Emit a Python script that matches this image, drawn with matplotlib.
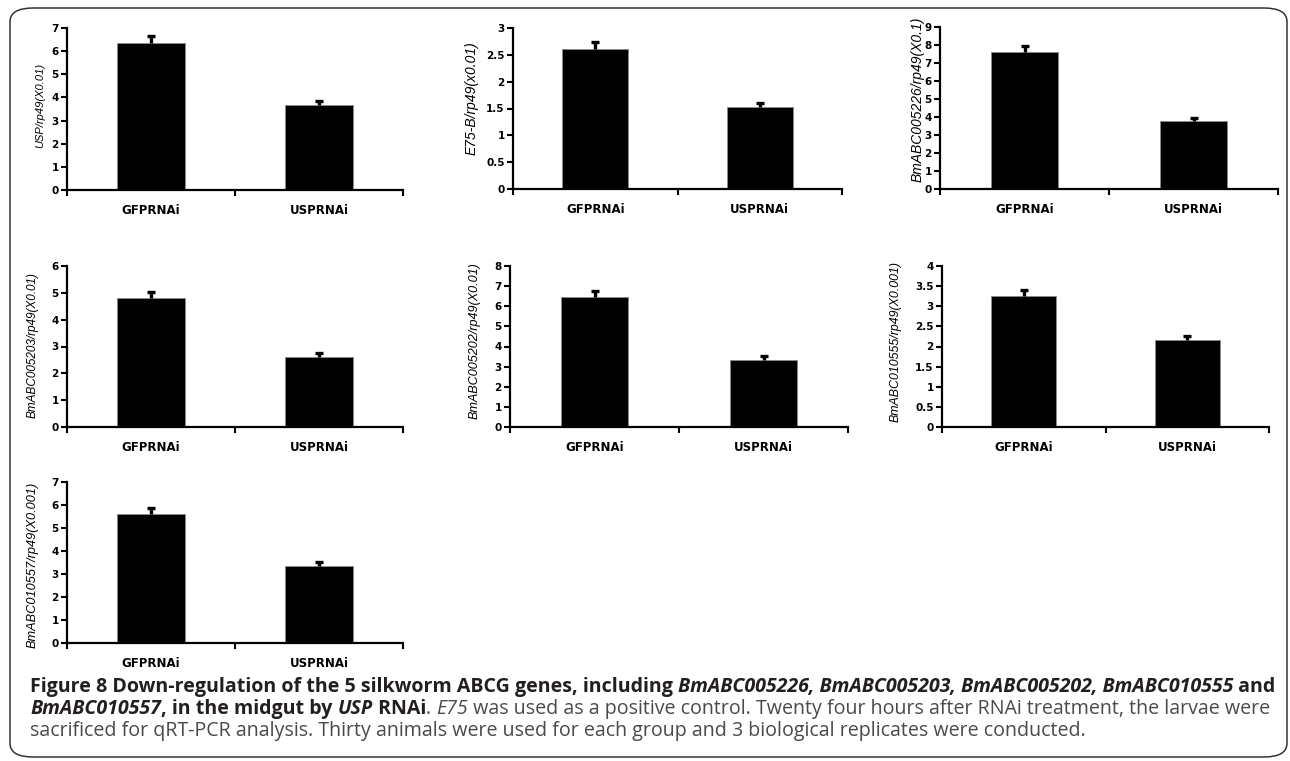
import numpy as np
import matplotlib
matplotlib.use("Agg")
from matplotlib import pyplot as plt
from matplotlib.patches import FancyBboxPatch

# data
groups = ["GFPRNAi", "USPRNAi"]
ylabels = ["USP/rp49(X0.01)", "E75-B/rp49(x0.01)", "BmABC005226/rp49(X0.1)",
           "BmABC005203/rp49(X0.01)", "BmABC005202/rp49(X0.01)",
           "BmABC010555/rp49(X0.001)", "BmABC010557/rp49(X0.001)"]
gfp_mean = [6.35, 2.61, 7.59, 4.82, 6.47, 3.26, 5.62]
gfp_err = [0.29, 0.13, 0.34, 0.22, 0.30, 0.14, 0.26]
usp_mean = [3.68, 1.53, 3.76, 2.61, 3.35, 2.17, 3.35]
usp_err = [0.17, 0.07, 0.18, 0.13, 0.17, 0.10, 0.17]
ymax = [7, 3, 9, 6, 8, 4, 7]
ystep = [1, 0.5, 1, 1, 1, 0.5, 1]

W, H = 1290, 761
fig = plt.figure(figsize=(W / 100, H / 100), dpi=100)
renderer = fig.canvas.get_renderer()

# axes boxes in pixels: left, right, top, bottom
boxes = [(67, 403, 28, 190), (513, 842, 28, 189), (940, 1278, 27, 189),
         (67, 403, 266, 427), (510, 848, 266, 427), (942, 1269, 266, 427),
         (67, 403, 482, 643)]
# y label: distance left of axis, vertical centre, length (pixels)
lab_dx = [27, 41, 22, 34, 35, 46, 34]
lab_cy = [105, 98, 99, 345, 341, 342, 565]
lab_len = [76, 117, 178, 147, 158, 162, 166]

for i in range(7):
    l, r, t, b = boxes[i]
    ax = fig.add_axes([l / W, 1 - b / H, (r - l) / W, (b - t) / H])
    x = np.arange(len(groups))
    vals = [gfp_mean[i], usp_mean[i]]
    errs = [gfp_err[i], usp_err[i]]
    ax.bar(x, vals, width=0.4, color="black", edgecolor="#8a8a8a", linewidth=0.6, zorder=2)
    eb = ax.errorbar(x, vals, yerr=[[0, 0], errs], fmt="none", ecolor="black",
                     elinewidth=2.4, capsize=2.8, capthick=2.4, zorder=3)
    eb[1][0].set_visible(False)  # no lower cap
    ax.set_xlim(-0.5, 1.5)
    ax.set_ylim(0, ymax[i])
    yt = np.arange(0, ymax[i] + ystep[i] / 2, ystep[i])
    ax.set_yticks(yt)
    ax.set_yticklabels([f"{v:g}" for v in yt], fontsize=7.5, fontweight="bold",
                       family="DejaVu Sans")
    ax.set_xticks(x)
    ax.set_xticklabels(groups, fontsize=8.5, fontweight="bold", family="DejaVu Sans")
    ax.set_xticks([-0.5, 0.5, 1.5], minor=True)
    ax.tick_params(axis="x", which="major", length=0, pad=10)
    ax.tick_params(axis="x", which="minor", length=4, width=1.5, direction="out")
    ax.tick_params(axis="y", length=4, width=1.5, direction="out", pad=2)
    for s in ["top", "right"]:
        ax.spines[s].set_visible(False)
    for s in ["left", "bottom"]:
        ax.spines[s].set_linewidth(1.6)
    ax.patch.set_alpha(0)

    lab = ax.set_ylabel(ylabels[i], fontsize=9, fontstyle="italic", family="Liberation Sans")
    lab.set_va("center")
    h = lab.get_window_extent(renderer).height
    lab.set_fontsize(min(max(9 * lab_len[i] / h, 8), 10))
    ax.yaxis.set_label_coords(-lab_dx[i] / (r - l), (b - lab_cy[i]) / (b - t))

# border round the whole figure
fig.patches.append(FancyBboxPatch((10 / W, 1 - 757 / H), 1277 / W, 749 / H,
                                  boxstyle="round,pad=0,rounding_size=0.018",
                                  transform=fig.transFigure, fill=False,
                                  edgecolor="#333333", linewidth=1.1))

# caption, built piece by piece
dark = "#231f20"
grey = "#4a4a4a"
cap = [
    (687, [("Figure 8 Down-regulation of the 5 silkworm ABCG genes, including ", "bold", "normal", dark),
           ("BmABC005226, BmABC005203, BmABC005202, BmABC010555", "bold", "italic", dark),
           (" and", "bold", "normal", dark)]),
    (709, [("BmABC010557", "bold", "italic", dark),
           (", in the midgut by ", "bold", "normal", dark),
           ("USP", "bold", "italic", dark),
           (" RNAi", "bold", "normal", dark),
           (". ", "normal", "normal", grey),
           ("E75", "normal", "italic", grey),
           (" was used as a positive control. Twenty four hours after RNAi treatment, the larvae were",
            "normal", "normal", grey)]),
    (731, [("sacrificed for qRT-PCR analysis. Thirty animals were used for each group and 3 biological replicates were conducted.",
            "normal", "normal", grey)]),
]

# size the caption so the first line spans the box like the original
base = 10.5
w1 = 0
for txt, w, st, c in cap[0][1]:
    tmp = fig.text(0, 0, txt, fontsize=base, fontweight=w, fontstyle=st, family="Open Sans")
    w1 += tmp.get_window_extent(renderer).width
    tmp.remove()
fs = base * (1279 - 30) / w1

for y, parts in cap:
    xp = 30
    for txt, w, st, c in parts:
        t = fig.text(xp / W, 1 - y / H, txt, fontsize=fs, fontweight=w, fontstyle=st,
                     color=c, family="Open Sans", va="center", ha="left")
        xp += t.get_window_extent(renderer).width

plt.savefig("out.png", dpi=100)
